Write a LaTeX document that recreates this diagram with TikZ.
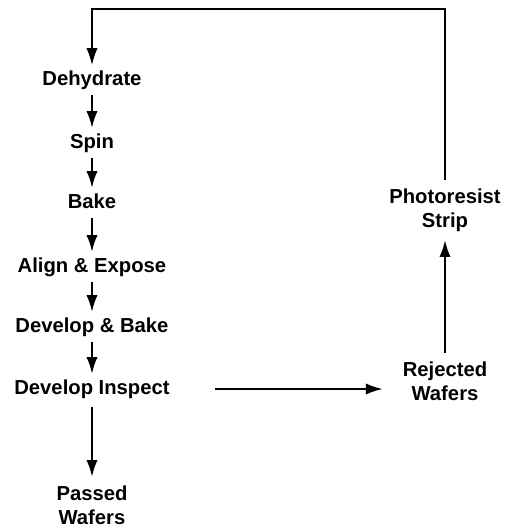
\documentclass[tikz,border=0pt]{standalone}
\usepackage{fontspec}
\setmainfont{Liberation Sans}
\usetikzlibrary{arrows.meta}
\begin{document}
\begin{tikzpicture}[x=0.025cm, y=-0.025cm]
				\tikzstyle{Step} = [font=\fontsize{14.4}{17}\selectfont\bfseries, align=center, inner sep=0pt, text height=1.5ex, text depth=0pt, minimum height=21]
				\tikzstyle{Pair} = [font=\fontsize{14.4}{17}\selectfont\bfseries, align=center, inner xsep=0pt, inner ysep=6pt]
				\tikzstyle{Flow} = [-{Latex[length=12pt, width=8pt]}, line width=1.5pt]
				\useasboundingbox (0,0) rectangle (523,530);
				\node (dh) at (92,80) [Step] {Dehydrate};
				\node (sp) at (92,143) [Step] {Spin};
				\node (bk) at (92,203) [Step] {Bake};
				\node (ae) at (92,267) [Step] {Align \& Expose};
				\node (db) at (92,327) [Step] {Develop \& Bake};
				\node (di) at (92,389) [Step] {Develop Inspect};
				\node (pw) at (92,505) [Pair] {Passed\\Wafers};
				\node (rw) at (445,381) [Pair] {Rejected\\Wafers};
				\node (ps) at (445,210) [Pair] {Photoresist\\Strip};
				\coordinate (top) at (268,9);
				\draw [Flow] (dh) to (sp);
				\draw [Flow] (sp) to (bk);
				\draw [Flow] (bk) to (ae);
				\draw [Flow] (ae) to (db);
				\draw [Flow] (db) to (di);
				\draw [Flow, shorten <=2] (di) to (pw);
				\draw [Flow, shorten <=32, shorten >=14] (di.east) to (di.east -| rw.west);
				\draw [Flow] (rw) to (ps);
				\draw [-{Latex[length=12pt, width=8pt]}, line width=0.9pt] (ps.north) |- (top) -| (dh.north);
			\end{tikzpicture}
\end{document}
